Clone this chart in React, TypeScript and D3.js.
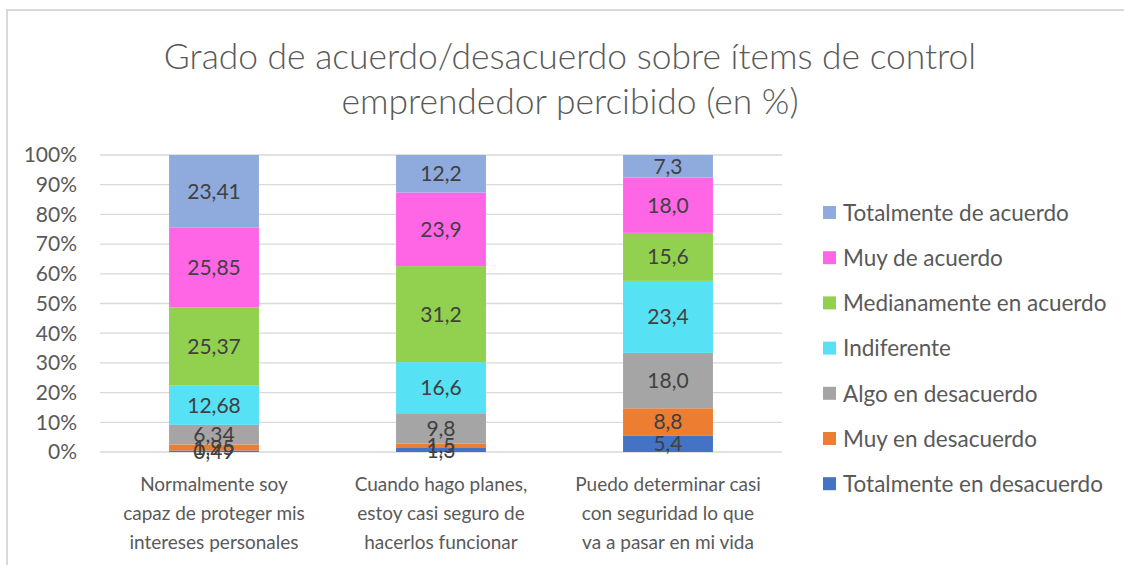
import React from "react";
import * as d3 from "d3";

const categories = [
  ["Normalmente soy", "capaz de proteger mis", "intereses personales"],
  ["Cuando hago planes,", "estoy casi seguro de", "hacerlos funcionar"],
  ["Puedo determinar casi", "con seguridad lo que", "va a pasar en mi vida"],
];
const seriesNames = [
  "Totalmente en desacuerdo",
  "Muy en desacuerdo",
  "Algo en desacuerdo",
  "Indiferente",
  "Medianamente en acuerdo",
  "Muy de acuerdo",
  "Totalmente de acuerdo",
];
const seriesColors = ["#4472C4", "#ED7D31", "#A5A5A5", "#57E1F4", "#92D050", "#FF66E6", "#8FAADC"];
const totDesacuerdo = [0.49, 1.3, 5.4];
const muyDesacuerdo = [1.95, 1.5, 8.8];
const algoDesacuerdo = [6.34, 9.8, 18.0];
const indiferente = [12.68, 16.6, 23.4];
const medianamente = [25.37, 31.2, 15.6];
const muyAcuerdo = [25.85, 23.9, 18.0];
const totAcuerdo = [23.41, 12.2, 7.3];
const labelText = [
  ["0,49", "1,3", "5,4"],
  ["1,95", "1,5", "8,8"],
  ["6,34", "9,8", "18,0"],
  ["12,68", "16,6", "23,4"],
  ["25,37", "31,2", "15,6"],
  ["25,85", "23,9", "18,0"],
  ["23,41", "12,2", "7,3"],
];
const yTicks = [0, 0.1, 0.2, 0.3, 0.4, 0.5, 0.6, 0.7, 0.8, 0.9, 1];

const W = 1124;
const H = 565;
const FONT = "Lato, 'Open Sans', sans-serif";

export default function App() {
  const seriesValues = [totDesacuerdo, muyDesacuerdo, algoDesacuerdo, indiferente, medianamente, muyAcuerdo, totAcuerdo];
  const rows = categories.map((_, i) => {
    const r: any = { idx: i };
    seriesNames.forEach((s, k) => (r[s] = seriesValues[k][i]));
    return r;
  });
  const stack = d3.stack<any>().keys(seriesNames).offset(d3.stackOffsetExpand);
  const stacked = stack(rows);

  const x = d3.scaleBand<number>().domain([0, 1, 2]).range([100.5, 781.5]).paddingInner(0.604).paddingOuter(0.302);
  const y = d3.scaleLinear().domain([0, 1]).range([452, 155]);

  const legendOrder = [...seriesNames.keys()].reverse();

  return (
    <svg width={W} height={H} style={{ position: "absolute", left: 0, top: 0, background: "#fff" }} fontFamily={FONT}>
      <rect x={7} y={10} width={W + 10} height={H + 10} fill="#fff" stroke="#D9D9D9" strokeWidth={2} />
      <text x={570} y={69} textAnchor="middle" fontSize={35.4} fill="#595959" fontWeight={300}>
        Grado de acuerdo/desacuerdo sobre ítems de control
      </text>
      <text x={570} y={114} textAnchor="middle" fontSize={35.4} fill="#595959" fontWeight={300}>
        emprendedor percibido (en %)
      </text>
      {yTicks.map((t) => (
        <g key={t}>
          <line x1={100} x2={782} y1={y(t)} y2={y(t)} stroke="#D9D9D9" strokeWidth={1.3} />
          <text x={77} y={y(t)} dy="0.35em" textAnchor="end" fontSize={21} fill="#595959">
            {d3.format(".0%")(t)}
          </text>
        </g>
      ))}
      {stacked.map((s, k) => (
        <g key={s.key}>
          {s.map((d, i) => (
            <rect key={i} x={x(i)} width={x.bandwidth()} y={y(d[1])} height={y(d[0]) - y(d[1])} fill={seriesColors[k]} />
          ))}
        </g>
      ))}
      {stacked.map((s, k) => (
        <g key={"l" + s.key}>
          {s.map((d, i) => (
            <text
              key={i}
              x={(x(i) as number) + x.bandwidth() / 2}
              y={(y(d[0]) + y(d[1])) / 2}
              dy="0.36em"
              textAnchor="middle"
              fontSize={21}
              fill="#404040"
            >
              {labelText[k][i]}
            </text>
          ))}
        </g>
      ))}
      {categories.map((lines, i) => (
        <text key={i} textAnchor="middle" fontSize={19} fill="#595959">
          {lines.map((ln, j) => (
            <tspan key={j} x={(x(i) as number) + x.bandwidth() / 2} y={491 + j * 29}>
              {ln}
            </tspan>
          ))}
        </text>
      ))}
      {legendOrder.map((k, j) => (
        <g key={k} transform={`translate(823,${213 + j * 45.2})`}>
          <rect x={0} y={-7} width={13} height={13} fill={seriesColors[k]} />
          <text x={20} y={0} dy="0.35em" fontSize={22.5} fill="#595959">
            {seriesNames[k]}
          </text>
        </g>
      ))}
    </svg>
  );
}
